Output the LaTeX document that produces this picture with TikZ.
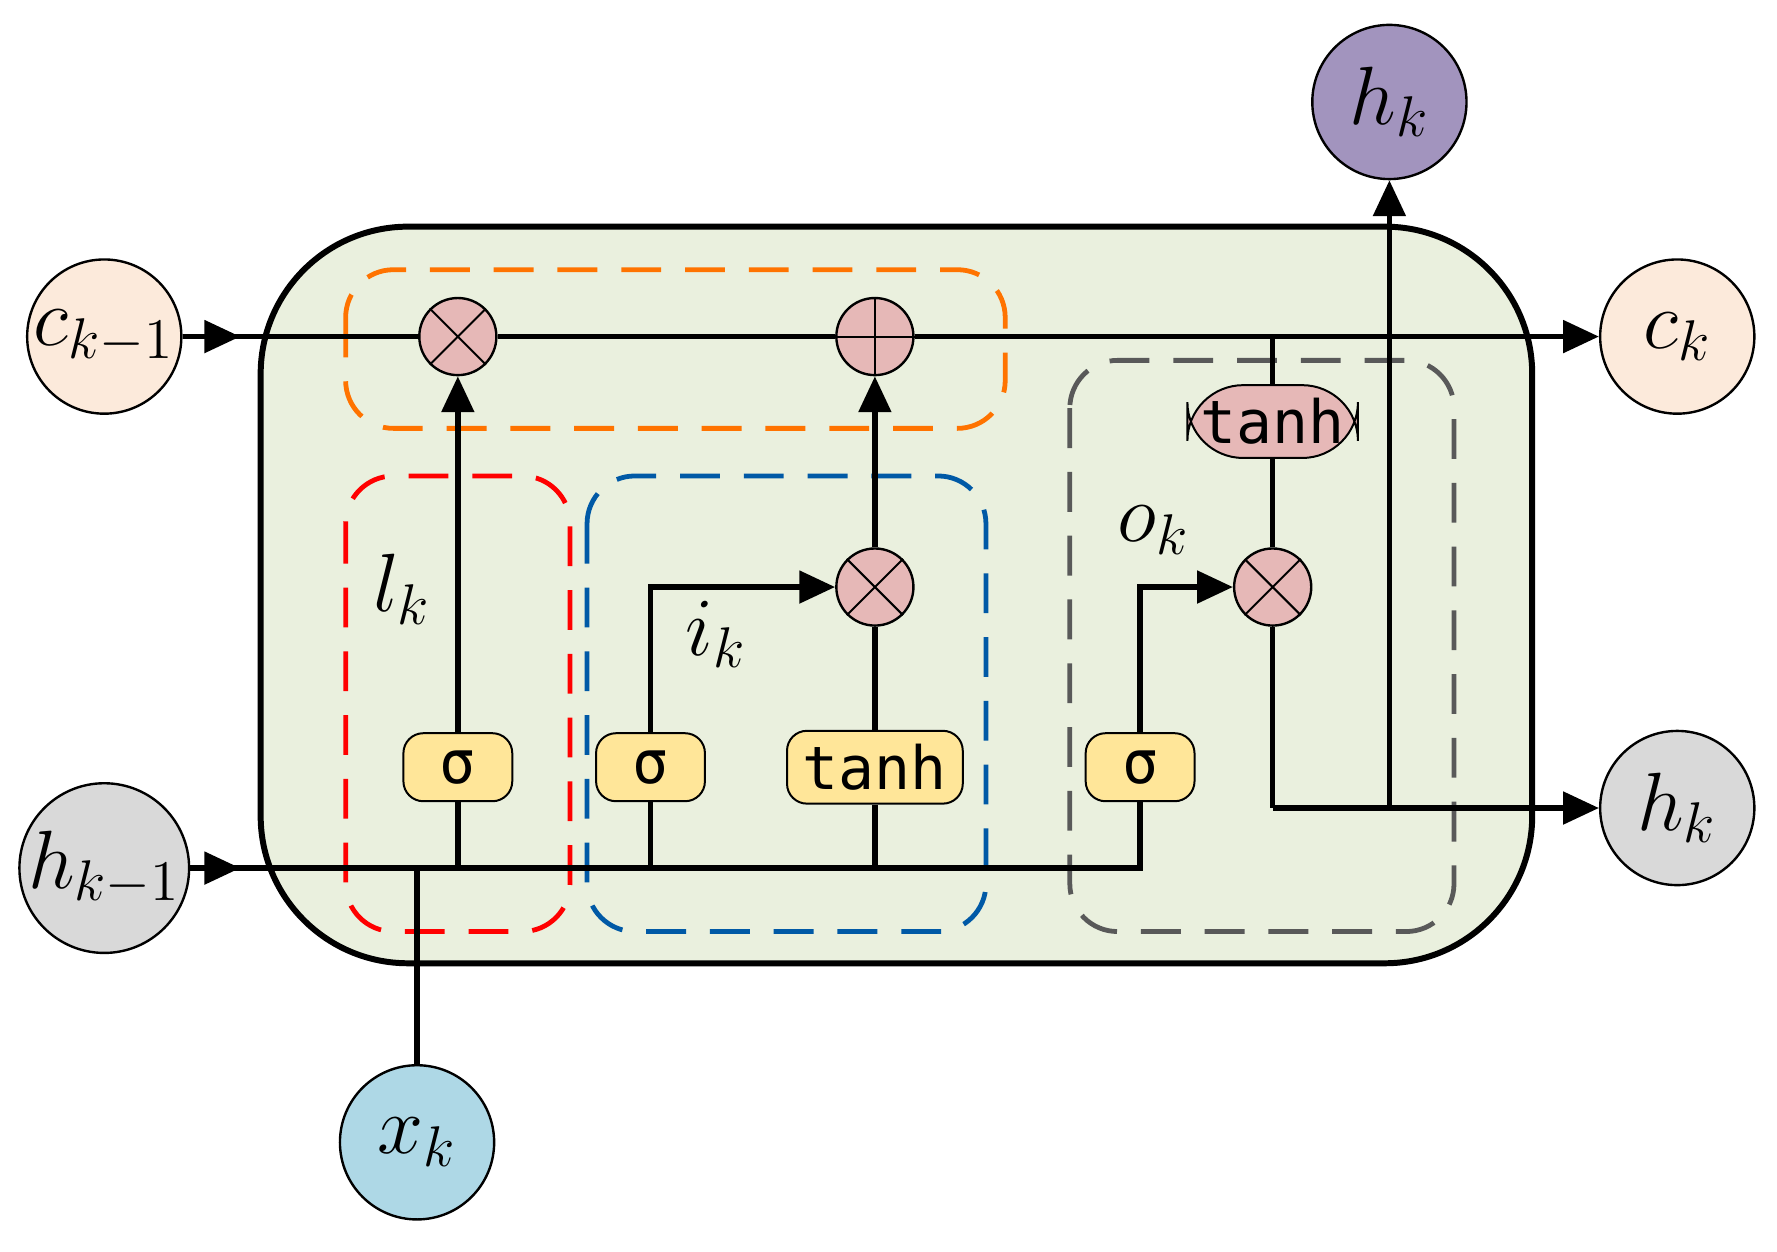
\documentclass[tikz,border=0pt]{standalone}
\usepackage{fontspec}
\newfontfamily\boxfont{DejaVu Sans Mono}
\usetikzlibrary{arrows.meta}
\definecolor{cellg}{HTML}{EAF0DE}
\definecolor{cpink}{HTML}{FCEADB}
\definecolor{hgray}{HTML}{D9D9D9}
\definecolor{hpur}{HTML}{A294BE}
\definecolor{xblue}{HTML}{AED8E6}
\definecolor{opink}{HTML}{E6B8B7}
\definecolor{byel}{HTML}{FFE699}
\begin{document}
\begin{tikzpicture}[x=0.01cm,y=-0.01cm,
  ln/.style={line width=1.4pt},
  ar/.style={ln,-{Triangle[length=9pt,width=8pt]}},
  io/.style={circle,draw,line width=0.6pt,minimum size=1.36cm,inner sep=0pt,font=\fontsize{20}{24}\selectfont},
  op/.style={circle,draw,line width=0.6pt,fill=opink,minimum size=0.68cm,inner sep=0pt},
  gate/.style={draw,line width=0.5pt,rounded corners=5pt,fill=byel,minimum height=0.6cm,minimum width=0.96cm,font=\boxfont\fontsize{15}{18}\selectfont},
  dsh/.style={dashed,dash pattern=on 10pt off 6pt,line width=1.2pt,rounded corners=12pt},
  lab/.style={font=\fontsize{22}{26}\selectfont}]
\useasboundingbox (0,0) rectangle (1568,1104);
\draw[line width=1.5pt,fill=cellg,rounded corners=1.3cm] (230,200) rectangle (1352,850);
\draw[dsh,draw=orange!90!red] (305,238) rectangle (887,378);
\draw[dsh,draw=red] (305,420) rectangle (503,822);
\draw[dsh,draw=teal!70!blue] (518,420) rectangle (870,822);
\draw[dsh,draw=black!65] (944,318) rectangle (1283,822);
\node[io,fill=cpink] (ckm) at (92,297) {$c_{k-1}$};
\node[io,fill=cpink] (ck) at (1480,297) {$c_k$};
\node[io,fill=hgray] (hkm) at (92,766) {$h_{k-1}$};
\node[io,fill=hgray] (hk) at (1480,713) {$h_k$};
\node[io,fill=hpur] (hkt) at (1226,90) {$h_k$};
\node[io,fill=xblue] (xk) at (368,1008) {$x_k$};
\node[op] (m1) at (404,297) {};
\node[op] (pl) at (772,297) {};
\node[op] (m2) at (772,518) {};
\node[op] (m3) at (1123,518) {};
\foreach \n in {m1,m2,m3}{\draw[line width=0.5pt] (\n.45)--(\n.225) (\n.135)--(\n.315);}
\draw[line width=0.5pt] (pl.north)--(pl.south) (pl.west)--(pl.east);
\node[gate] (s1) at (404,677) {σ};
\node[gate] (s2) at (574,677) {σ};
\node[gate,minimum width=1.55cm] (t1) at (772,677) {tanh};
\node[gate] (s3) at (1006,677) {σ};
\node[gate,fill=opink,minimum width=1.38cm,rounded corners=14pt] (t2) at (1123,372) {tanh};
\coordinate (cj) at (1123,297);
\coordinate (hj) at (1123,713);
\coordinate (hs) at (1226,713);
\coordinate (xj) at (368,766);
% cell line
\draw[ar] (ckm.east) -- (212,297);
\draw[ln] (205,297) -- (m1) -- (pl);
\draw[ar] (pl) -- (ck.west);
% h line
\draw[ar] (hkm.east) -- (212,766);
\draw[ln] (205,766) -| (s3.south);
\draw[ln] (xk.north) -- (xj);
\draw[ln] (s1.south) -- (404,766) (s2.south) -- (574,766) (t1.south) -- (772,766);
\draw[ar] (s1.north) -- (m1.south);
\draw[ar] (s2.north) |- (m2.west);
\draw[ln] (t1.north) -- (m2.south);
\draw[ar] (m2.north) -- (pl.south);
\draw[ar] (s3.north) |- (m3.west);
\draw[ln] (m3.north) -- (t2.south);
\draw[ln] (t2.north) -- (cj);
\draw[ln] (m3.south) -- (hj);
\draw[ar] (hj) -- (hk.west);
\draw[ar] (hs) -- (hkt.south);
\node[lab] at (355,520) {$l_k$};
\node[lab] at (632,560) {$i_k$};
\node[lab] at (1018,468) {$o_k$};
\end{tikzpicture}
\end{document}
